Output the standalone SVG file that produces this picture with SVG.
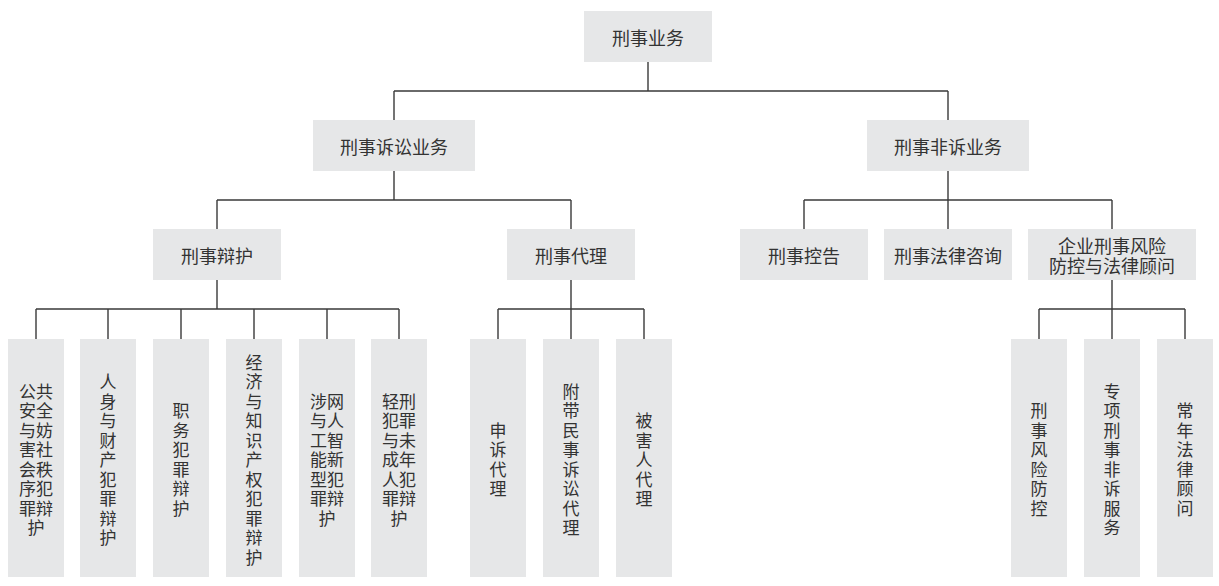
<svg xmlns="http://www.w3.org/2000/svg" width="1219" height="586" viewBox="0 0 1219 586">
<style>
.box{fill:#e6e7e8}
.t{font-family:"Noto Sans CJK SC","Noto Sans",sans-serif;fill:#333333;text-anchor:middle;dominant-baseline:central}
.u{font-size:18px}
.l{font-size:17px}
.c{fill:none;stroke:#3a3a3a;stroke-width:1.4}
</style>
<rect width="1219" height="586" fill="#ffffff"/>
<g id="connectors" class="c">
<path d="M648 62V91M394 91H948M394 91V120M948 91V120"/>
<path d="M394 171V200M217 200H571M217 200V229M571 200V229"/>
<path d="M948 171V200M804 200H1112M804 200V229M948 200V229M1112 200V229"/>
<path d="M217 280V309M36 309H399M36 309V339M108 309V339M181 309V339M254 309V339M327 309V339M399 309V339"/>
<path d="M571 280V309M498 309H644M498 309V339M571 309V339M644 309V339"/>
<path d="M1112 280V309M1039 309H1185M1039 309V339M1112 309V339M1185 309V339"/>
</g>
<g id="n-root"><rect class="box" x="584" y="11" width="128" height="51"/><text class="t u" x="648" y="36.5">刑事业务</text></g>
<g id="n-litigation"><rect class="box" x="313" y="120" width="162" height="51"/><text class="t u" x="394" y="145.5">刑事诉讼业务</text></g>
<g id="n-nonlitigation"><rect class="box" x="867" y="120" width="162" height="51"/><text class="t u" x="948" y="145.5">刑事非诉业务</text></g>
<g id="n-defense"><rect class="box" x="153" y="229" width="128" height="51"/><text class="t u" x="217" y="254.5">刑事辩护</text></g>
<g id="n-agency"><rect class="box" x="507" y="229" width="128" height="51"/><text class="t u" x="571" y="254.5">刑事代理</text></g>
<g id="n-accusation"><rect class="box" x="740" y="229" width="128" height="51"/><text class="t u" x="804" y="254.5">刑事控告</text></g>
<g id="n-consult"><rect class="box" x="884" y="229" width="128" height="51"/><text class="t u" x="948" y="254.5">刑事法律咨询</text></g>
<g id="n-enterprise"><rect class="box" x="1028" y="229" width="168" height="51"/><text class="t u" x="1112"><tspan x="1112" y="245">企业刑事风险</tspan><tspan x="1112" y="265">防控与法律顾问</tspan></text></g>

<g id="n-d1"><rect class="box" x="8" y="339" width="56" height="238"/><text class="t l"><tspan x="36" y="389.75">公共</tspan><tspan x="36" y="409.25">安全</tspan><tspan x="36" y="428.75">与妨</tspan><tspan x="36" y="448.25">害社</tspan><tspan x="36" y="467.75">会秩</tspan><tspan x="36" y="487.25">序犯</tspan><tspan x="36" y="506.75">罪辩</tspan><tspan x="36" y="526.25">护</tspan></text></g>
<g id="n-d2"><rect class="box" x="80" y="339" width="56" height="238"/><text class="t l"><tspan x="108" y="380">人</tspan><tspan x="108" y="399.5">身</tspan><tspan x="108" y="419">与</tspan><tspan x="108" y="438.5">财</tspan><tspan x="108" y="458">产</tspan><tspan x="108" y="477.5">犯</tspan><tspan x="108" y="497">罪</tspan><tspan x="108" y="516.5">辩</tspan><tspan x="108" y="536">护</tspan></text></g>
<g id="n-d3"><rect class="box" x="153" y="339" width="56" height="238"/><text class="t l"><tspan x="181" y="409.25">职</tspan><tspan x="181" y="428.75">务</tspan><tspan x="181" y="448.25">犯</tspan><tspan x="181" y="467.75">罪</tspan><tspan x="181" y="487.25">辩</tspan><tspan x="181" y="506.75">护</tspan></text></g>
<g id="n-d4"><rect class="box" x="226" y="339" width="56" height="238"/><text class="t l"><tspan x="254" y="360.5">经</tspan><tspan x="254" y="380">济</tspan><tspan x="254" y="399.5">与</tspan><tspan x="254" y="419">知</tspan><tspan x="254" y="438.5">识</tspan><tspan x="254" y="458">产</tspan><tspan x="254" y="477.5">权</tspan><tspan x="254" y="497">犯</tspan><tspan x="254" y="516.5">罪</tspan><tspan x="254" y="536">辩</tspan><tspan x="254" y="555.5">护</tspan></text></g>
<g id="n-d5"><rect class="box" x="299" y="339" width="56" height="238"/><text class="t l"><tspan x="327" y="399.5">涉网</tspan><tspan x="327" y="419">与人</tspan><tspan x="327" y="438.5">工智</tspan><tspan x="327" y="458">能新</tspan><tspan x="327" y="477.5">型犯</tspan><tspan x="327" y="497">罪辩</tspan><tspan x="327" y="516.5">护</tspan></text></g>
<g id="n-d6"><rect class="box" x="371" y="339" width="56" height="238"/><text class="t l"><tspan x="399" y="399.5">轻刑</tspan><tspan x="399" y="419">犯罪</tspan><tspan x="399" y="438.5">与未</tspan><tspan x="399" y="458">成年</tspan><tspan x="399" y="477.5">人犯</tspan><tspan x="399" y="497">罪辩</tspan><tspan x="399" y="516.5">护</tspan></text></g>

<g id="n-a1"><rect class="box" x="470" y="339" width="56" height="238"/><text class="t l"><tspan x="498" y="428.75">申</tspan><tspan x="498" y="448.25">诉</tspan><tspan x="498" y="467.75">代</tspan><tspan x="498" y="487.25">理</tspan></text></g>
<g id="n-a2"><rect class="box" x="543" y="339" width="56" height="238"/><text class="t l"><tspan x="571" y="389.75">附</tspan><tspan x="571" y="409.25">带</tspan><tspan x="571" y="428.75">民</tspan><tspan x="571" y="448.25">事</tspan><tspan x="571" y="467.75">诉</tspan><tspan x="571" y="487.25">讼</tspan><tspan x="571" y="506.75">代</tspan><tspan x="571" y="526.25">理</tspan></text></g>
<g id="n-a3"><rect class="box" x="616" y="339" width="56" height="238"/><text class="t l"><tspan x="644" y="419">被</tspan><tspan x="644" y="438.5">害</tspan><tspan x="644" y="458">人</tspan><tspan x="644" y="477.5">代</tspan><tspan x="644" y="497">理</tspan></text></g>

<g id="n-e1"><rect class="box" x="1011" y="339" width="56" height="238"/><text class="t l"><tspan x="1039" y="409.25">刑</tspan><tspan x="1039" y="428.75">事</tspan><tspan x="1039" y="448.25">风</tspan><tspan x="1039" y="467.75">险</tspan><tspan x="1039" y="487.25">防</tspan><tspan x="1039" y="506.75">控</tspan></text></g>
<g id="n-e2"><rect class="box" x="1084" y="339" width="56" height="238"/><text class="t l"><tspan x="1112" y="389.75">专</tspan><tspan x="1112" y="409.25">项</tspan><tspan x="1112" y="428.75">刑</tspan><tspan x="1112" y="448.25">事</tspan><tspan x="1112" y="467.75">非</tspan><tspan x="1112" y="487.25">诉</tspan><tspan x="1112" y="506.75">服</tspan><tspan x="1112" y="526.25">务</tspan></text></g>
<g id="n-e3"><rect class="box" x="1157" y="339" width="56" height="238"/><text class="t l"><tspan x="1185" y="409.25">常</tspan><tspan x="1185" y="428.75">年</tspan><tspan x="1185" y="448.25">法</tspan><tspan x="1185" y="467.75">律</tspan><tspan x="1185" y="487.25">顾</tspan><tspan x="1185" y="506.75">问</tspan></text></g>
</svg>
